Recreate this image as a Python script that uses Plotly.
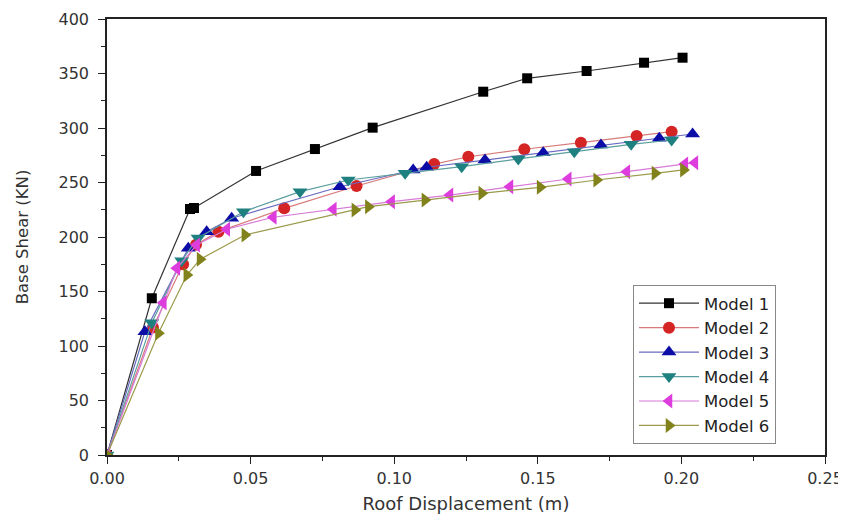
import plotly.graph_objects as go

names = ["Model 1", "Model 2", "Model 3", "Model 4", "Model 5", "Model 6"]

m1_x = [0.0, 0.0156, 0.0289, 0.0303, 0.0519, 0.0724, 0.0925, 0.131, 0.1463, 0.167, 0.187, 0.2004]
m1_y = [0, 143.8, 225.7, 226.6, 260.6, 280.7, 300.3, 333.3, 345.6, 352.3, 359.9, 364.5]

m2_x = [0.0, 0.016, 0.0265, 0.031, 0.0388, 0.0617, 0.0869, 0.1139, 0.1258, 0.1453, 0.165, 0.1844, 0.1966]
m2_y = [0, 117, 175, 193, 204.9, 226.3, 246.8, 266.9, 273.6, 280.5, 286.5, 292.7, 296.6]

m3_x = [0.0, 0.0132, 0.0283, 0.0347, 0.0434, 0.0811, 0.1066, 0.1113, 0.1316, 0.1519, 0.172, 0.1923, 0.2039]
m3_y = [0, 113.1, 189.6, 204.9, 217.2, 246.1, 261.5, 264.0, 270.6, 277.3, 284.4, 290.5, 294.5]

m4_x = [0.0, 0.0156, 0.026, 0.0317, 0.0475, 0.0672, 0.084, 0.1038, 0.1235, 0.1432, 0.1627, 0.1825, 0.1966]
m4_y = [0, 121.4, 178.3, 199.1, 223.2, 241.6, 252.3, 258.4, 264.5, 271.6, 278.3, 285.0, 289.0]

m5_x = [0.0, 0.0196, 0.0243, 0.0312, 0.0417, 0.0579, 0.0788, 0.0991, 0.1194, 0.1403, 0.1606, 0.181, 0.2012, 0.2047]
m5_y = [0, 139.7, 171.3, 192.7, 207.1, 218.1, 225.4, 232.4, 238.5, 246.1, 253.2, 259.9, 266.9, 268.2]

m6_x = [0.0, 0.0179, 0.0278, 0.0324, 0.048, 0.0863, 0.091, 0.1107, 0.1305, 0.1508, 0.1705, 0.1908, 0.2007]
m6_y = [0, 111.7, 165.1, 179.5, 201.8, 224.8, 227.8, 233.9, 240.1, 245.6, 252.3, 258.4, 261.5]

x_tick_vals = [0.0, 0.05, 0.10, 0.15, 0.20, 0.25]
x_tick_text = ["0.00", "0.05", "0.10", "0.15", "0.20", "0.25"]
y_tick_vals = [0, 50, 100, 150, 200, 250, 300, 350, 400]

xs = [m1_x, m2_x, m3_x, m4_x, m5_x, m6_x]
ys = [m1_y, m2_y, m3_y, m4_y, m5_y, m6_y]
symbols = ["square", "circle", "triangle-up", "triangle-down", "triangle-left", "triangle-right"]
marker_colors = ["#000000", "#d42424", "#0c0ca6", "#1f8080", "#dd3ddd", "#82821c"]
line_colors = ["#333333", "#d87a7a", "#6a6ac0", "#5a9e9e", "#d77ad7", "#9a9a4a"]
sizes = [10, 12, 13, 13, 13, 13]

fig = go.Figure()
for i in range(6):
    fig.add_trace(go.Scatter(
        x=xs[i], y=ys[i], name=names[i], mode="lines+markers",
        line=dict(color=line_colors[i], width=1.2),
        marker=dict(symbol=symbols[i], color=marker_colors[i], size=sizes[i], line=dict(width=0)),
    ))

FONT = "DejaVu Sans, Verdana, sans-serif"
axis_common = dict(
    showline=True, linecolor="#222222", linewidth=1.5, mirror=True,
    ticks="outside", ticklen=7, tickwidth=1.2, tickcolor="#222222",
    showgrid=False, zeroline=False, automargin=False,
    tickfont=dict(family=FONT, size=16, color="#333333"),
)

fig.update_layout(
    width=846, height=507,
    margin=dict(l=99, r=29, t=11, b=60, autoexpand=False),
    plot_bgcolor="white", paper_bgcolor="white",
    font=dict(family=FONT, color="#333333"),
    xaxis=dict(range=[0, 0.25], tickvals=x_tick_vals, ticktext=x_tick_text,
               ticklabelstandoff=1, ticklabeloverflow="allow",
               minor=dict(dtick=0.025, ticks="outside", ticklen=4, tickcolor="#222222"),
               title=dict(text="Roof Displacement (m)", font=dict(size=18), standoff=10),
               **axis_common),
    yaxis=dict(range=[0, 400], tickvals=y_tick_vals,
               ticklabelstandoff=6,
               minor=dict(dtick=25, ticks="outside", ticklen=4, tickcolor="#222222"),
               title=dict(text="Base Shear (KN)", font=dict(size=16.5), standoff=26),
               **axis_common),
    legend=dict(x=0.7326, y=0.39, xanchor="left", yanchor="top",
                bordercolor="#888888", borderwidth=1, bgcolor="white",
                font=dict(size=16.5, color="#222222"), itemwidth=60,
                tracegroupgap=0),
)

fig.write_html(
    "out.html",
    post_script="document.documentElement.style.overflow='hidden';document.body.style.overflow='hidden';",
)
